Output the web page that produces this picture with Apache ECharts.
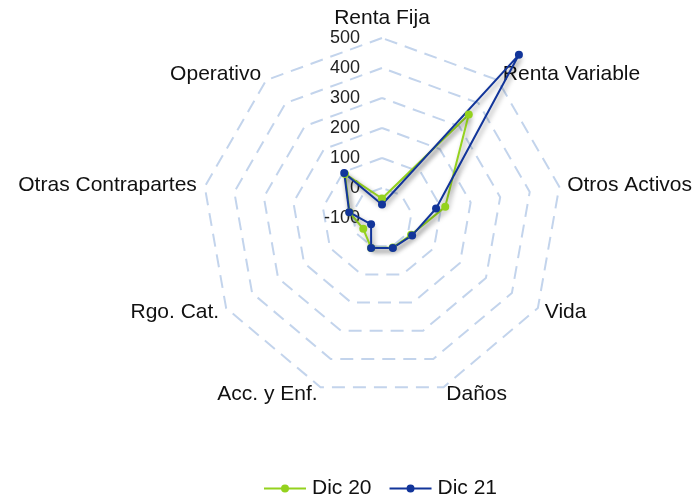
<!DOCTYPE html>
<html>
<head>
<meta charset="utf-8">
<script src="https://cdn.jsdelivr.net/npm/echarts@6/dist/echarts.min.js"></script>
<style>
html,body{margin:0;padding:0;background:#fff;}
#chart{width:694px;height:497px;}
</style>
</head>
<body>
<div id="chart"></div>
<script>
var categories = ['Renta Fija','Renta Variable','Otros Activos','Vida','Daños','Acc. y Enf.','Rgo. Cat.','Otras Contrapartes','Operativo'];
var seriesNames = ['Dic 20','Dic 21'];
var dic20 = [-35, 350, 114, 12, 5, 6, -28, 10, 92];
var dic21 = [-55, 610, 83, 16, 6, 6, -58, 11, 96];
var axisMin = -100, axisMax = 500, axisStep = 100;

var FONT = '"Liberation Sans", Arial, sans-serif';
// ECharts radar runs counter-clockwise; reorder so categories go clockwise from top
var order = [0].concat(categories.map(function(_, i){ return i; }).slice(1).reverse());
function reorder(arr){ return order.map(function(i){ return arr[i]; }); }

var chart = echarts.init(document.getElementById('chart'));
var indicators = order.map(function(ci, k){
  var o = {name: categories[ci], min: axisMin, max: axisMax};
  if (k === 0) o.axisLabel = {show: true};
  return o;
});
var legendIcon = 'path://M0,5 h17.5 v2 h-17.5 z M24.5,5 h17.5 v2 h-17.5 z M17,6 a4,4 0 1,1 8,0 a4,4 0 1,1 -8,0 z';
chart.setOption({
  animation: false,
  backgroundColor: '#fff',
  legend: {
    data: [{name: seriesNames[0], icon: legendIcon}, {name: seriesNames[1], icon: legendIcon}],
    top: 473,
    left: 259,
    itemWidth: 44,
    itemHeight: 8,
    itemGap: 18,
    textStyle: {fontFamily: FONT, fontSize: 21, color: '#111'}
  },
  radar: {
    center: [382, 218],
    radius: 180,
    startAngle: 90,
    shape: 'polygon',
    splitNumber: (axisMax - axisMin) / axisStep,
    nameGap: 8,
    axisName: {fontFamily: FONT, fontSize: 21, color: '#111'},
    axisLine: {show: false},
    axisTick: {show: false},
    axisLabel: {show: false, fontFamily: FONT, fontSize: 18, color: '#222', margin: 22},
    splitArea: {show: false},
    splitLine: {lineStyle: {color: '#C3D4EC', width: 2, type: [13, 8]}},
    indicator: indicators
  },
  series: [{
    type: 'radar',
    symbol: 'circle',
    symbolSize: 8,
    data: [
      {name: seriesNames[0], value: reorder(dic20),
       lineStyle: {color: '#94D21E', width: 2, shadowColor: 'rgba(0,0,0,0.4)', shadowBlur: 5, shadowOffsetX: 2, shadowOffsetY: 3},
       itemStyle: {color: '#94D21E'}},
      {name: seriesNames[1], value: reorder(dic21),
       lineStyle: {color: '#12359A', width: 2, shadowColor: 'rgba(0,0,0,0.4)', shadowBlur: 5, shadowOffsetX: 2, shadowOffsetY: 3},
       itemStyle: {color: '#12359A'}}
    ]
  }]
});
</script>
</body>
</html>
